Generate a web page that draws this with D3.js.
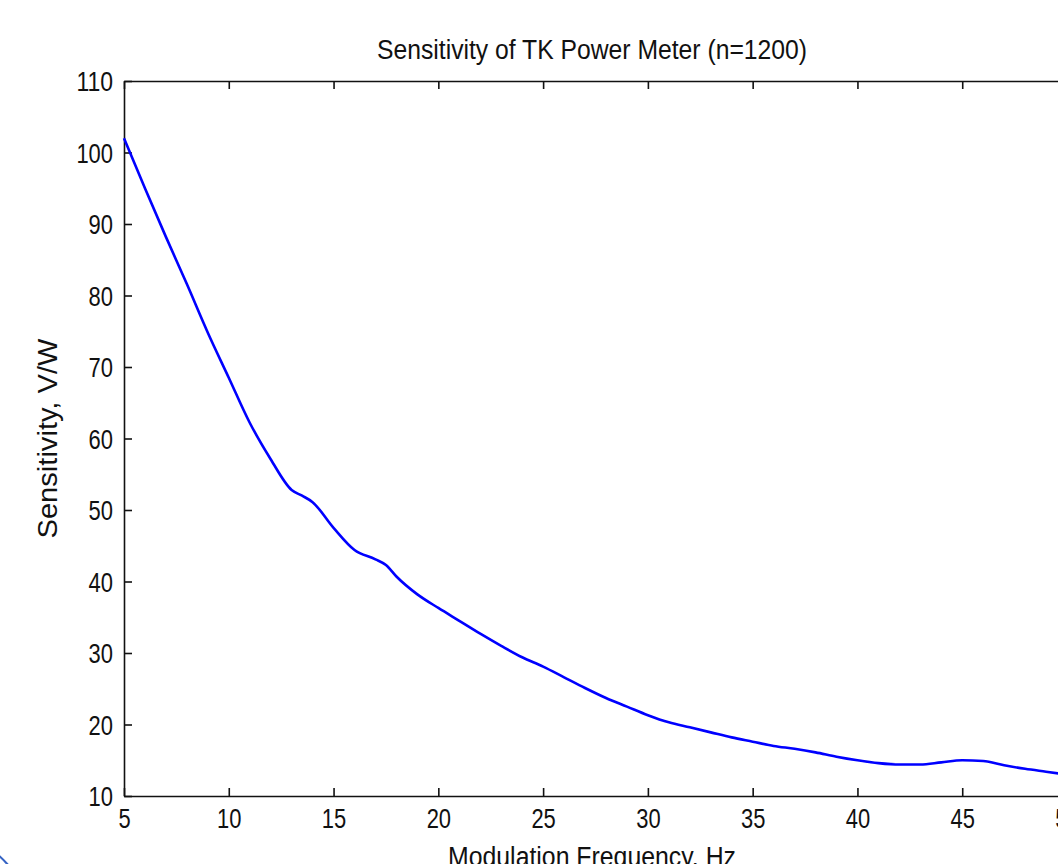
<!DOCTYPE html>
<html>
<head>
<meta charset="utf-8">
<script src="https://cdn.jsdelivr.net/npm/d3@7"></script>
<style>
    body { margin: 0; background: #fff; overflow: hidden; }
    svg { display: block; }
    text { font-family: "Liberation Sans", Arial, sans-serif; fill: #111; }
    .axis path, .axis line { stroke: #111; stroke-width: 1.6; }
</style>
</head>
<body>
<svg id="chart" width="1058" height="864"></svg>
<script>

// Sensitivity curve
var freqs = [5, 6, 7, 8, 9, 10, 11, 12, 13, 13.5, 14, 15, 16, 17, 17.5, 18, 19, 20,
             21, 22, 23, 24, 25, 26, 27, 28, 29, 30, 31, 32, 33, 34, 35, 36, 37, 38,
             39, 40, 41, 42, 43, 44, 45, 46, 47, 48, 49, 50];
var sensitivity = [102, 95, 88.2, 81.6, 74.8, 68.5, 62.2, 57.1, 52.8, 52.0, 51.1, 47.5, 44.4, 43.1, 42.3, 40.7, 38.2, 36.3,
                   34.5, 32.7, 31.0, 29.4, 28.1, 26.6, 25.1, 23.7, 22.5, 21.3, 20.3, 19.6, 18.9, 18.2, 17.6, 17.0, 16.6, 16.1,
                   15.5, 15.0, 14.6, 14.4, 14.4, 14.7, 15.0, 14.9, 14.3, 13.8, 13.4, 13.0];

var xTicks = [5, 10, 15, 20, 25, 30, 35, 40, 45, 50];
var yTicks = [10, 20, 30, 40, 50, 60, 70, 80, 90, 100, 110];

var titleText = "Sensitivity of TK Power Meter (n=1200)";
var xLabel = "Modulation Frequency, Hz";
var yLabel = "Sensitivity, V/W";

function drawChart() {

    // plot box (right edge falls just outside the window, as in the screenshot)
    var pLeft = 124, pRight = 1067, pTop = 81, pBottom = 796;
    var digitW = 12.2;   // matlab font is narrow, squeeze digits to match
    var fontSize = "27px";

    var svg = d3.select("#chart");

    var x = d3.scaleLinear().domain([5, 50]).range([pLeft, pRight]);
    var y = d3.scaleLinear().domain([10, 110]).range([pBottom, pTop]);

    var data = freqs.map(function(f, i) { return {f: f, s: sensitivity[i]}; });

    // axes: ticks point inwards like matlab
    svg.append("g")
        .attr("class", "x axis")
        .attr("transform", "translate(0," + pBottom + ")")
        .call(d3.axisBottom(x).tickValues(xTicks).tickSizeInner(-8).tickSizeOuter(0).tickFormat(d3.format("d")))
        .selectAll("text")
        .attr("y", 32)
        .attr("dy", 0)
        .style("font-size", fontSize)
        .attr("textLength", function(d) { return String(d).length * digitW; })
        .attr("lengthAdjust", "spacingAndGlyphs");

    svg.append("g")
        .attr("class", "x axis top")
        .attr("transform", "translate(0," + pTop + ")")
        .call(d3.axisTop(x).tickValues(xTicks).tickSizeInner(-8).tickSizeOuter(0).tickFormat(""));

    svg.append("g")
        .attr("class", "y axis")
        .attr("transform", "translate(" + pLeft + ",0)")
        .call(d3.axisLeft(y).tickValues(yTicks).tickSizeInner(-8).tickSizeOuter(0).tickFormat(d3.format("d")))
        .selectAll("text")
        .attr("x", -11)
        .attr("dy", "0.36em")
        .style("font-size", fontSize)
        .attr("textLength", function(d) { return String(d).length * digitW; })
        .attr("lengthAdjust", "spacingAndGlyphs");

    svg.append("g")
        .attr("class", "y axis right")
        .attr("transform", "translate(" + pRight + ",0)")
        .call(d3.axisRight(y).tickValues(yTicks).tickSizeInner(-8).tickSizeOuter(0).tickFormat(""));

    svg.selectAll(".axis .domain").attr("stroke", "#111");
    svg.selectAll(".axis text").attr("fill", "#111");

    // the curve
    var line = d3.line()
        .x(function(d) { return x(d.f); })
        .y(function(d) { return y(d.s); })
        .curve(d3.curveMonotoneX);

    svg.append("path")
        .datum(data)
        .attr("fill", "none")
        .attr("stroke", "#0000ff")
        .attr("stroke-width", 2.6)
        .attr("d", line);

    // labels
    svg.append("text")
        .attr("x", 592)
        .attr("y", 59)
        .style("text-anchor", "middle")
        .style("font-size", fontSize)
        .attr("textLength", 430)
        .attr("lengthAdjust", "spacingAndGlyphs")
        .text(titleText);

    svg.append("text")
        .attr("x", 592)
        .attr("y", 866)
        .style("text-anchor", "middle")
        .style("font-size", fontSize)
        .attr("textLength", 288)
        .attr("lengthAdjust", "spacingAndGlyphs")
        .text(xLabel);

    svg.append("text")
        .attr("transform", "translate(57," + ((pTop + pBottom) / 2) + ") rotate(-90)")
        .style("text-anchor", "middle")
        .style("font-size", fontSize)
        .attr("textLength", 200)
        .attr("lengthAdjust", "spacingAndGlyphs")
        .text(yLabel);

    // bit of the window frame in the corner
    svg.append("path")
        .attr("d", "M-3,854 Q3,859 9,866")
        .attr("fill", "none")
        .attr("stroke", "#3563c4")
        .attr("stroke-width", 2.2);
}

drawChart();

</script>
</body>
</html>
